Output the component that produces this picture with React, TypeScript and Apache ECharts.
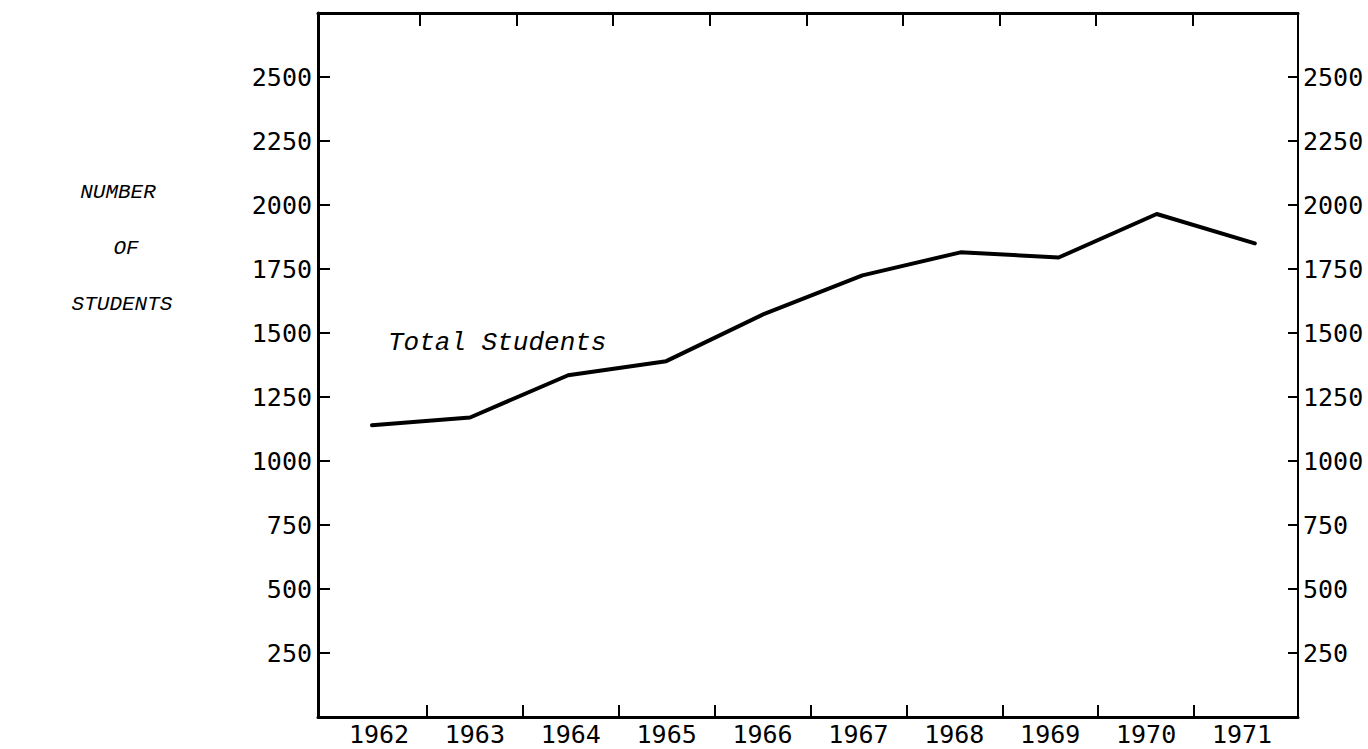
import React, { useEffect, useRef } from "react";
import * as echarts from "echarts";

const years = [1962, 1963, 1964, 1965, 1966, 1967, 1968, 1969, 1970, 1971];
const totalStudents = [1140, 1170, 1335, 1390, 1575, 1725, 1815, 1795, 1965, 1850];
const yTickLabels = [250, 500, 750, 1000, 1250, 1500, 1750, 2000, 2250, 2500];
const xTickMarks = [1962.5, 1963.5, 1964.5, 1965.5, 1966.5, 1967.5, 1968.5, 1969.5, 1970.5];
const titleLines = ["NUMBER", "OF", "STUDENTS"];
const seriesLabel = "Total Students";

export default function App() {
  const ref = useRef<HTMLDivElement>(null);
  useEffect(() => {
    if (!ref.current) return;
    const chart = echarts.init(ref.current, null, { renderer: "svg" });
    const monoNum = "DejaVu Sans Mono";
    const typewriter = "'Liberation Mono', 'Courier New', monospace";
    const yAxisBase = {
      type: "value",
      min: 0,
      max: 2750,
      interval: 250,
      splitLine: { show: false },
    };
    const titleStyle = (text: string) => ({
      text,
      fill: "#000",
      font: `italic 21px ${typewriter}`,
      align: "center",
      verticalAlign: "middle",
    });
    chart.setOption({
      animation: false,
      backgroundColor: "#ffffff",
      grid: { left: 318, right: 70, top: 13, bottom: 32, containLabel: false },
      xAxis: [
        {
          type: "value",
          min: 1961.45,
          max: 1971.44,
          show: false,
        },
        {
          type: "value",
          position: "bottom",
          min: 1961.364,
          max: 1971.584,
          axisLine: { show: true, onZero: false, lineStyle: { color: "#000", width: 3 } },
          axisTick: {
            show: true,
            inside: true,
            length: 12,
            customValues: xTickMarks,
            lineStyle: { color: "#000", width: 2 },
          },
          axisLabel: {
            show: true,
            customValues: years,
            formatter: (v: number) => String(Math.round(v)),
            color: "#000",
            fontFamily: monoNum,
            fontSize: 25,
            lineHeight: 24,
            margin: 5,
          },
          splitLine: { show: false },
        },
        {
          type: "value",
          position: "top",
          min: 1961.444,
          max: 1971.589,
          axisLine: { show: true, onZero: false, lineStyle: { color: "#000", width: 3 } },
          axisTick: {
            show: true,
            inside: true,
            length: 13,
            customValues: xTickMarks,
            lineStyle: { color: "#000", width: 2 },
          },
          axisLabel: { show: false },
          splitLine: { show: false },
        },
      ],
      yAxis: [
        {
          ...yAxisBase,
          position: "left",
          axisLine: { show: true, lineStyle: { color: "#000", width: 3 } },
          axisTick: {
            show: true,
            inside: true,
            length: 12,
            customValues: yTickLabels,
            lineStyle: { color: "#000", width: 2 },
          },
          axisLabel: {
            customValues: yTickLabels,
            formatter: (v: number) => String(v),
            color: "#000",
            fontFamily: monoNum,
            fontSize: 25,
            margin: 6,
          },
        },
        {
          ...yAxisBase,
          position: "right",
          axisLine: { show: true, lineStyle: { color: "#000", width: 2 } },
          axisTick: {
            show: true,
            inside: true,
            length: 10,
            customValues: yTickLabels,
            lineStyle: { color: "#000", width: 2 },
          },
          axisLabel: {
            customValues: yTickLabels,
            formatter: (v: number) => String(v),
            color: "#000",
            fontFamily: monoNum,
            fontSize: 25,
            margin: 5,
          },
        },
      ],
      series: [
        {
          type: "line",
          name: seriesLabel,
          xAxisIndex: 0,
          yAxisIndex: 0,
          data: years.map((y, i) => [y, totalStudents[i]]),
          showSymbol: false,
          symbol: "none",
          lineStyle: { color: "#000", width: 4, join: "round", cap: "round" },
        },
      ],
      graphic: [
        {
          type: "text",
          left: 388,
          top: 330,
          style: {
            text: seriesLabel,
            fill: "#000",
            font: `italic 26px ${typewriter}`,
          },
        },
        { type: "text", x: 118, y: 192, style: titleStyle(titleLines[0]) },
        { type: "text", x: 126, y: 248, style: titleStyle(titleLines[1]) },
        { type: "text", x: 122, y: 304, style: titleStyle(titleLines[2]) },
      ],
    });
    return () => chart.dispose();
  }, []);
  return (
    <div
      ref={ref}
      style={{ position: "fixed", left: 0, top: 0, width: 1368, height: 749, background: "#fff" }}
    />
  );
}
